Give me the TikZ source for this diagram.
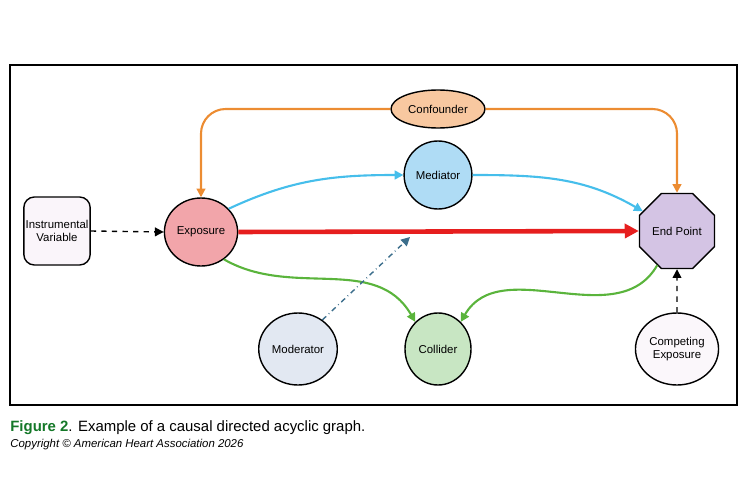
\documentclass[tikz,border=0pt]{standalone}
\usepackage{fontspec}
\setmainfont{Liberation Sans}
\usetikzlibrary{shapes.geometric,arrows.meta}
\definecolor{orng}{RGB}{236,140,50}
\definecolor{skyb}{RGB}{70,190,235}
\definecolor{redl}{RGB}{230,30,30}
\definecolor{grn}{RGB}{90,180,60}
\definecolor{teal}{RGB}{60,110,140}
\definecolor{figgreen}{RGB}{20,120,40}
\definecolor{expfill}{RGB}{242,165,170}
\definecolor{conffill}{RGB}{248,200,160}
\definecolor{medfill}{RGB}{175,220,245}
\definecolor{endfill}{RGB}{212,196,228}
\definecolor{modfill}{RGB}{226,232,242}
\definecolor{colfill}{RGB}{200,230,195}
\tikzset{
  var/.style={draw=black, thick, font=\fontsize{6.5}{7.5}\selectfont, align=center, inner sep=1pt},
  circ/.style={var, ellipse, minimum width=66*0.02cm, minimum height=68*0.02cm},
  link/.style={-{Triangle[length=5pt,width=5pt]}, line width=1.2pt}
}
\begin{document}
\begin{tikzpicture}[x=0.02cm, y=-0.02cm]
  \useasboundingbox (0,0) rectangle (750,500);
  \draw[line width=1.6pt] (10,65) rectangle (737,405);

  \node[var, rounded corners=6pt, fill=violet!4, minimum width=66*0.02cm, minimum height=68*0.02cm] (iv) at (57,231) {Instrumental\\Variable};
  \node[circ, fill=expfill] (exp) at (201,232) {Exposure};
  \node[var, ellipse, fill=conffill, minimum width=94*0.02cm, minimum height=38*0.02cm] (conf) at (438,109) {Confounder};
  \node[circ, fill=medfill] (med) at (438,175) {Mediator};
  \node[var, regular polygon, regular polygon sides=8, fill=endfill, minimum size=78*0.02cm] (end) at (677,231) {End Point};
  \node[circ, fill=modfill, minimum height=72*0.02cm] (mod) at (298,349) {Moderator};
  \node[circ, fill=colfill, minimum height=72*0.02cm] (col) at (438,349) {Collider};
  \node[circ, fill=violet!3, minimum height=72*0.02cm] (comp) at (677,349) {Competing\\Exposure};
  \coordinate (modtip) at (410,237);

  % confounding paths
  \draw[link, orng, rounded corners=14pt] (conf.west) -| (exp.north);
  \draw[link, orng, rounded corners=14pt] (conf.east) -| (end.north);
  % mediated path
  \draw[link, skyb] (exp.40) to[out=25, in=180] (med.west);
  \draw[link, skyb] (med.east) to[out=0, in=150] (end.150);
  % direct effect
  \draw[-{Triangle[length=8pt,width=8pt]}, redl, line width=2.6pt] (exp.east) -- (end.west);
  % collider paths
  \draw[link, grn] (exp.-50) to[out=-30, in=120] (col.130);
  \draw[link, grn] (end.-120) to[out=-120, in=60] (col.50);
  % other influences
  \draw[-{Triangle[length=5pt,width=5pt]}, teal, dash dot, thick] (mod.50) -- (modtip);
  \draw[-{Triangle[length=5pt,width=5pt]}, dashed, thick] (iv.east) -- (exp.west);
  \draw[-{Triangle[length=5pt,width=5pt]}, dashed, thick] (comp.north) -- (end.south);

  \node[anchor=west, font=\fontsize{8.5}{10}\selectfont, inner sep=0pt] (cap) at (10,428) {\textcolor{figgreen}{\bfseries Figure 2}. Example of a causal directed acyclic graph.};
  \node[anchor=west, font=\fontsize{6.5}{8}\selectfont\itshape, inner sep=0pt] (copy) at (10,445) {Copyright © American Heart Association 2026};
\end{tikzpicture}
\end{document}
